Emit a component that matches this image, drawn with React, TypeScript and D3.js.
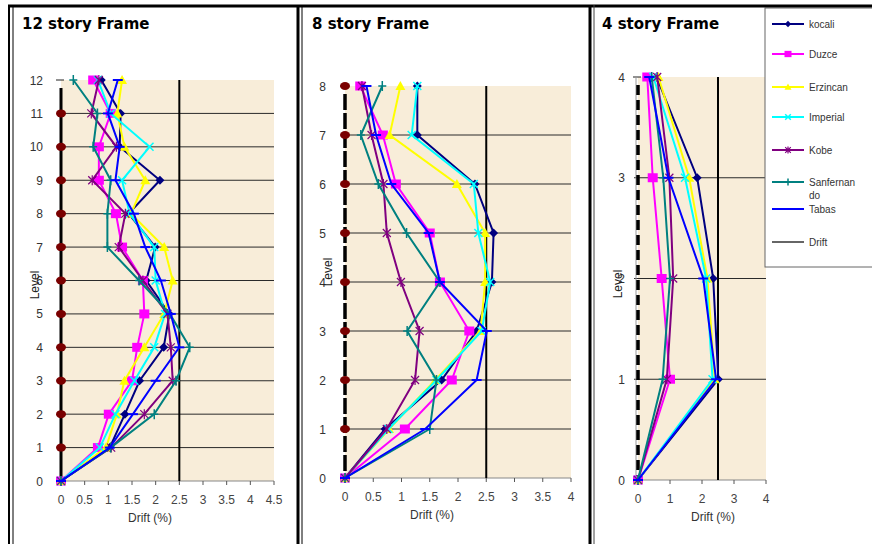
import React from "react";
import * as d3 from "d3";

// series (earthquake records)
const seriesNames = ["kocali", "Duzce", "Erzincan", "Imperial", "Kobe", "Sanfernando", "Tabas"];
const seriesColors = ["#000080", "#FF00FF", "#FFFF00", "#00FFFF", "#800080", "#008080", "#0000FF"];
const seriesMarkers = ["diamond", "square", "triangle", "x", "star", "plus", "dash"];

// 12 story frame, drift (%) at level 0..12
const levels12 = [0, 1, 2, 3, 4, 5, 6, 7, 8, 9, 10, 11, 12];
const kocali12 = [0, 1.03, 1.35, 1.66, 2.17, 2.29, 1.8, 1.99, 1.43, 2.09, 1.24, 1.26, 0.85];
const duzce12 = [0, 0.78, 1.01, 1.5, 1.61, 1.76, 1.73, 1.29, 1.16, 0.8, 0.8, 1.05, 0.68];
const erzincan12 = [0, 0.95, 1.18, 1.34, 1.76, 2.18, 2.36, 2.18, 1.48, 1.78, 1.34, 1.19, 1.29];
const imperial12 = [0, 0.82, 1.15, 1.55, 1.97, 2.2, 2.0, 1.97, 1.45, 1.29, 1.87, 1.05, 0.78];
const kobe12 = [0, 1.06, 1.76, 2.36, 2.32, 2.25, 1.73, 1.22, 1.36, 0.66, 1.17, 0.64, 0.8];
const sanfernando12 = [0, 1.05, 1.97, 2.43, 2.72, 2.3, 1.65, 0.98, 0.98, 1.05, 0.68, 0.77, 0.26];
const tabas12 = [0, 1.03, 1.52, 2.0, 2.5, 2.32, 2.11, 1.78, 1.54, 1.15, 1.24, 0.99, 1.2];
const xTicks12 = [0, 0.5, 1, 1.5, 2, 2.5, 3, 3.5, 4, 4.5];

// 8 story frame
const levels8 = [0, 1, 2, 3, 4, 5, 6, 7, 8];
const kocali8 = [0, 0.71, 1.71, 2.33, 2.6, 2.63, 2.3, 1.28, 1.28];
const duzce8 = [0, 1.06, 1.89, 2.2, 1.68, 1.5, 0.9, 0.67, 0.27];
const erzincan8 = [0, 0.78, 1.6, 2.4, 2.48, 2.48, 1.98, 0.79, 0.98];
const imperial8 = [0, 0.77, 1.62, 2.42, 2.57, 2.36, 2.28, 1.18, 1.28];
const kobe8 = [0, 0.74, 1.24, 1.32, 0.99, 0.74, 0.68, 0.47, 0.3];
const sanfernando8 = [0, 1.5, 1.62, 1.1, 1.68, 1.09, 0.59, 0.28, 0.66];
const tabas8 = [0, 1.42, 2.33, 2.51, 1.68, 1.48, 0.82, 0.55, 0.38];
const xTicks8 = [0, 0.5, 1, 1.5, 2, 2.5, 3, 3.5, 4];

// 4 story frame
const levels4 = [0, 1, 2, 3, 4];
const kocali4 = [0, 2.51, 2.35, 1.85, 0.58];
const duzce4 = [0, 1.0, 0.74, 0.46, 0.29];
const erzincan4 = [0, 2.4, 2.17, 1.6, 0.64];
const imperial4 = [0, 2.33, 2.13, 1.47, 0.48];
const kobe4 = [0, 0.9, 1.1, 0.98, 0.6];
const sanfernando4 = [0, 0.77, 1.0, 0.79, 0.43];
const tabas4 = [0, 2.44, 2.04, 0.95, 0.35];
const xTicks4 = [0, 1, 2, 3, 4];

// drift limit line
const driftLimit = 2.5;

const FONT = "'Liberation Sans', Arial, sans-serif";
const TITLE_FONT = "'DejaVu Sans', Verdana, sans-serif";
const BEIGE = "#F8EDD9";
const MAROON = "#7A0000";

type PanelCfg = {
  title: string;
  titleX: number;
  levels: number[];
  values: number[][];
  xTicks: number[];
  xDomain: [number, number];
  xRange: [number, number];
  yRange: [number, number];
  yLabelX: number;
  levelLabel: [number, number];
  driftLabelX: number;
  leftDash: string | null;
  dots: boolean;
  grayAxis: boolean;
};

const panels: PanelCfg[] = [
  {
    title: "12 story Frame", titleX: 22, levels: levels12,
    values: [kocali12, duzce12, erzincan12, imperial12, kobe12, sanfernando12, tabas12],
    xTicks: xTicks12, xDomain: [0, 4.5], xRange: [61, 274], yRange: [481, 80],
    yLabelX: 43, levelLabel: [39, 285], driftLabelX: 150, leftDash: null, dots: true, grayAxis: false,
  },
  {
    title: "8 story Frame", titleX: 312, levels: levels8,
    values: [kocali8, duzce8, erzincan8, imperial8, kobe8, sanfernando8, tabas8],
    xTicks: xTicks8, xDomain: [0, 4], xRange: [345, 571], yRange: [478, 86],
    yLabelX: 326, levelLabel: [332, 272], driftLabelX: 432, leftDash: "16 3", dots: true, grayAxis: false,
  },
  {
    title: "4 story Frame", titleX: 602, levels: levels4,
    values: [kocali4, duzce4, erzincan4, imperial4, kobe4, sanfernando4, tabas4],
    xTicks: xTicks4, xDomain: [0, 4], xRange: [638, 766], yRange: [480, 77],
    yLabelX: 625, levelLabel: [622, 284], driftLabelX: 713, leftDash: "10 5", dots: false, grayAxis: true,
  },
];

function Marker({ shape, x, y, color, s = 1 }: { shape: string; x: number; y: number; color: string; s?: number }) {
  switch (shape) {
    case "diamond":
      return <polygon points={`${x},${y - 4.5 * s} ${x + 4.5 * s},${y} ${x},${y + 4.5 * s} ${x - 4.5 * s},${y}`} fill={color} />;
    case "square":
      return <rect x={x - 5 * s} y={y - 4.5 * s} width={10 * s} height={9 * s} fill={color} />;
    case "triangle":
      return <polygon points={`${x},${y - 5 * s} ${x + 5 * s},${y + 4 * s} ${x - 5 * s},${y + 4 * s}`} fill={color} />;
    case "x":
      return (
        <path
          d={`M${x - 4 * s},${y - 4 * s}L${x + 4 * s},${y + 4 * s}M${x - 4 * s},${y + 4 * s}L${x + 4 * s},${y - 4 * s}`}
          stroke={color}
          strokeWidth={1.5}
        />
      );
    case "star":
      return (
        <path
          d={`M${x - 4 * s},${y - 4 * s}L${x + 4 * s},${y + 4 * s}M${x - 4 * s},${y + 4 * s}L${x + 4 * s},${y - 4 * s}M${x},${y - 5 * s}L${x},${y + 5 * s}`}
          stroke={color}
          strokeWidth={1.2}
        />
      );
    case "plus":
      return (
        <path d={`M${x - 4 * s},${y}L${x + 4 * s},${y}M${x},${y - 5 * s}L${x},${y + 5 * s}`} stroke={color} strokeWidth={1.5} />
      );
    case "dash":
      return <path d={`M${x - 5 * s},${y}L${x + 5 * s},${y}`} stroke={color} strokeWidth={2} />;
    default:
      return null;
  }
}

function Panel({ cfg }: { cfg: PanelCfg }) {
  const topLevel = cfg.levels[cfg.levels.length - 1];
  const x = d3.scaleLinear().domain(cfg.xDomain).range(cfg.xRange);
  const y = d3.scaleLinear().domain([0, topLevel]).range(cfg.yRange);
  const line = d3
    .line<[number, number]>()
    .x((d) => x(d[0]))
    .y((d) => y(d[1]));
  const [x0, x1] = cfg.xRange;
  const [yb, yt] = cfg.yRange;

  return (
    <g>
      <text x={cfg.titleX} y={29} fontFamily={TITLE_FONT} fontWeight="bold" fontSize={15} fill="#000">
        {cfg.title}
      </text>
      <rect x={x0} y={yt} width={x1 - x0} height={yb - yt} fill={BEIGE} />
      {/* horizontal grid lines */}
      {cfg.levels.slice(1, -1).map((l) => (
        <line key={l} x1={x0 - 4} x2={x1} y1={y(l)} y2={y(l)} stroke="#2a2a2a" strokeWidth={1} />
      ))}
      {/* top tick */}
      <line x1={x0 - 5} x2={x0 + 3} y1={yt} y2={yt} stroke="#222" strokeWidth={1} />
      {/* x axis */}
      <line x1={x0} x2={x1} y1={yb} y2={yb} stroke="#888" strokeWidth={1} />
      {cfg.xTicks.map((t) => (
        <g key={t}>
          <line x1={x(t)} x2={x(t)} y1={yb} y2={yb + 4} stroke="#555" strokeWidth={1} />
          <text x={x(t)} y={yb + 23} textAnchor="middle" fontFamily={FONT} fontSize={12} fill="#444">
            {t}
          </text>
        </g>
      ))}
      <text x={cfg.driftLabelX} y={yb + 41} textAnchor="middle" fontFamily={FONT} fontSize={12} fill="#333">
        Drift (%)
      </text>
      {/* y labels */}
      {cfg.levels.map((l) => (
        <text key={l} x={cfg.yLabelX} y={y(l) + 4.5} textAnchor="end" fontFamily={FONT} fontSize={12} fill="#333">
          {l}
        </text>
      ))}
      <text
        transform={`translate(${cfg.levelLabel[0]},${cfg.levelLabel[1]}) rotate(-90)`}
        textAnchor="middle"
        fontFamily={FONT}
        fontSize={12}
        fill="#222"
      >
        Level
      </text>
      {/* left axis */}
      {cfg.grayAxis && <line x1={x0 - 2} x2={x0 - 2} y1={yt} y2={yb} stroke="#999" strokeWidth={1} />}
      <line
        x1={x0}
        x2={x0}
        y1={yt + 8}
        y2={yb}
        stroke="#000"
        strokeWidth={cfg.leftDash ? 3.5 : 3}
        strokeDasharray={cfg.leftDash ?? undefined}
      />
      {cfg.dots &&
        cfg.levels.slice(1, cfg.leftDash ? undefined : -1).map((l) => (
          <ellipse key={l} cx={x0} cy={y(l)} rx={5} ry={4} fill={MAROON} />
        ))}
      {/* drift limit */}
      <path
        d={line([[driftLimit, 0], [driftLimit, topLevel]]) ?? ""}
        stroke="#000"
        strokeWidth={2}
        fill="none"
      />
      {/* series */}
      {cfg.values.map((vals, i) => {
        const pts: [number, number][] = vals.map((v, k) => [v, cfg.levels[k]]);
        return (
          <g key={i}>
            <path d={line(pts) ?? ""} stroke={seriesColors[i]} strokeWidth={2} fill="none" />
            {pts.map((p, k) => (
              <Marker key={k} shape={seriesMarkers[i]} x={x(p[0])} y={y(p[1])} color={seriesColors[i]} />
            ))}
          </g>
        );
      })}
    </g>
  );
}

const legendY = [24, 54, 87, 117, 150, 182, 209];
const driftLegendY = 242;

function Legend() {
  const lx0 = 772;
  const lx1 = 804;
  return (
    <g>
      <rect x={765} y={8} width={112} height={259} fill="#fff" stroke="#666" strokeWidth={1} />
      {seriesNames.map((name, i) => (
        <g key={name}>
          <line x1={lx0} x2={lx1} y1={legendY[i]} y2={legendY[i]} stroke={seriesColors[i]} strokeWidth={2} />
          {seriesMarkers[i] !== "dash" && (
            <Marker shape={seriesMarkers[i]} x={(lx0 + lx1) / 2} y={legendY[i]} color={seriesColors[i]} s={0.7} />
          )}
          {name === "Sanfernando" ? (
            <text x={809} y={legendY[i] + 4} fontFamily={FONT} fontSize={10} fill="#333">
              <tspan x={809}>Sanfernan</tspan>
              <tspan x={809} dy={13}>do</tspan>
            </text>
          ) : (
            <text x={809} y={legendY[i] + 4} fontFamily={FONT} fontSize={10} fill="#333">
              {name}
            </text>
          )}
        </g>
      ))}
      <line x1={lx0} x2={lx1} y1={driftLegendY} y2={driftLegendY} stroke="#000" strokeWidth={1.2} />
      <text x={809} y={driftLegendY + 4} fontFamily={FONT} fontSize={10} fill="#333">
        Drift
      </text>
    </g>
  );
}

export default function App() {
  return (
    <svg
      width={872}
      height={544}
      style={{ position: "absolute", left: 0, top: 0, background: "#fff" }}
    >
      {panels.map((p) => (
        <Panel key={p.title} cfg={p} />
      ))}
      <Legend />
      {/* frame lines */}
      <line x1={8} x2={872} y1={6} y2={6} stroke="#000" strokeWidth={3} />
      <line x1={9} x2={9} y1={5} y2={544} stroke="#000" strokeWidth={2} />
      <line x1={13} x2={13} y1={5} y2={544} stroke="#000" strokeWidth={1} />
      <line x1={298} x2={298} y1={5} y2={544} stroke="#000" strokeWidth={3} />
      <line x1={302} x2={302} y1={5} y2={544} stroke="#000" strokeWidth={1} />
      <line x1={590} x2={590} y1={5} y2={544} stroke="#000" strokeWidth={3} />
      <line x1={594} x2={594} y1={5} y2={544} stroke="#444" strokeWidth={1} />
    </svg>
  );
}
